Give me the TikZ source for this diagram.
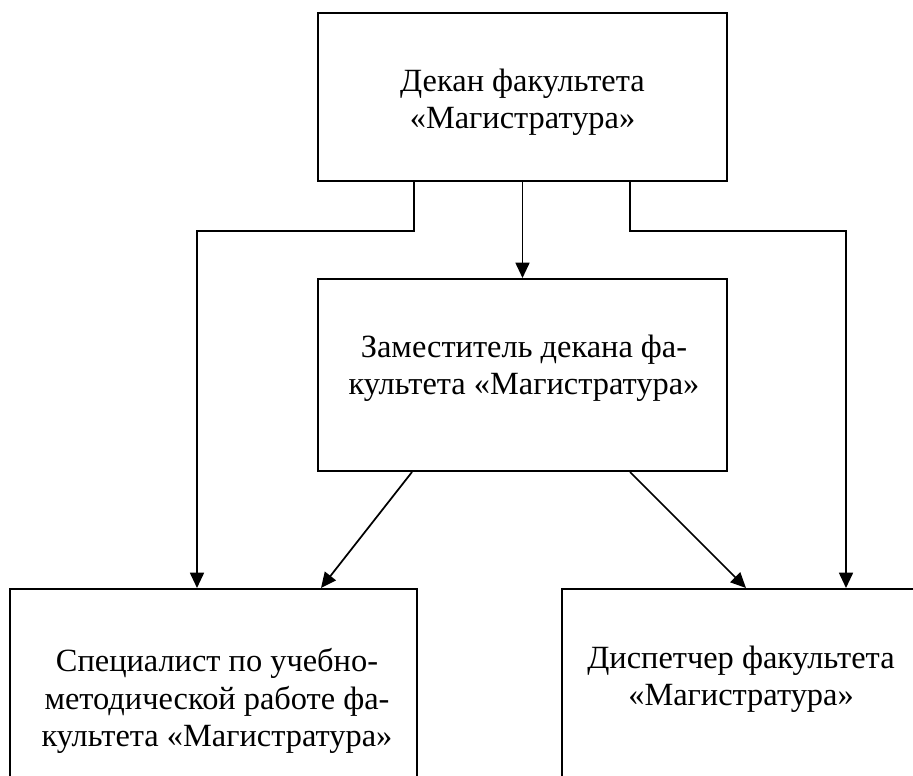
\documentclass[tikz,border=0pt]{standalone}
\usepackage{fontspec}
\setmainfont{Liberation Serif}
\usetikzlibrary{arrows.meta,calc}
\begin{document}
\begin{tikzpicture}[x=0.75pt,y=-0.75pt,
  box/.style={draw,line width=1.5pt,rectangle,inner sep=0pt,minimum width=306.75pt},
  lbl/.style={align=center,inner sep=0pt,font=\fontsize{24.3pt}{28pt}\selectfont},
  conn/.style={line width=1.3pt,-{Triangle[length=11.5pt,width=10.5pt]}}]
\useasboundingbox (0,0) rectangle (913,775);
\clip (0,0) rectangle (913,775);
\fill[white] (0,0) rectangle (913,775);
\node[box,minimum height=126pt] (dean) at (522.5,97) {};
\node[box,minimum height=144pt] (dep) at (522.5,375) {};
\node[box,minimum width=305.25pt,minimum height=180pt] (spec) at (213.5,709) {};
\node[box,minimum width=305.25pt,minimum height=180pt] (disp) at (765.5,709) {};
\node[lbl] (tdean) at (522.5,102) {Декан факультета\\«Магистратура»};
\node[lbl] (tdep) at (524,368) {Заместитель декана фа-\\культета «Магистратура»};
\node[lbl] (tspec) at (217,701) {Специалист по учебно-\\методической работе фа-\\культета «Магистратура»};
\node[lbl] (tdisp) at (741,679) {Диспетчер факультета\\«Магистратура»};
\coordinate (dl) at ($(dean.south west)+(97,0)$);
\coordinate (dr) at ($(dean.south west)+(313,0)$);
\coordinate (jl) at ($(dl)+(0,49)$);
\coordinate (jr) at ($(dr)+(0,49)$);
\coordinate (sl) at ($(spec.north west)+(188,0)$);
\coordinate (sr) at ($(spec.north west)+(312,0)$);
\coordinate (pl) at ($(disp.north west)+(185,0)$);
\coordinate (pr) at ($(disp.north west)+(285,0)$);
\coordinate (ml) at ($(dep.south west)+(95,0)$);
\coordinate (mr) at ($(dep.south west)+(313,0)$);
\draw[conn] (dean.south) -- (dep.north);
\draw[conn] (dl) -- (jl) -| (sl);
\draw[conn] (dr) -- (jr) -| (pr);
\draw[conn] (ml) -- (sr);
\draw[conn] (mr) -- (pl);
\end{tikzpicture}
\end{document}
